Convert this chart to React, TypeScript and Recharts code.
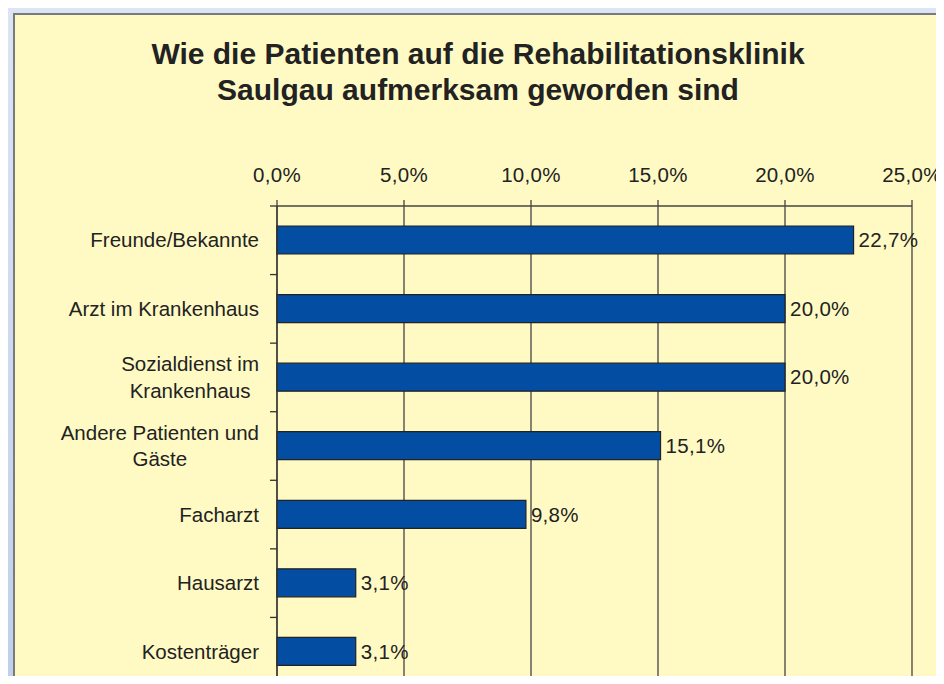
import React from 'react';
import { BarChart, Bar, XAxis, YAxis, CartesianGrid, LabelList } from 'recharts';

const categories = [
  'Freunde/Bekannte',
  'Arzt im Krankenhaus',
  'Sozialdienst im\nKrankenhaus',
  'Andere Patienten und\nGäste',
  'Facharzt',
  'Hausarzt',
  'Kostenträger',
];
const shares = [22.7, 20.0, 20.0, 15.1, 9.8, 3.1, 3.1];
const xTicks = [0, 5, 10, 15, 20, 25];

const data = categories.map((name, i) => ({ name, value: shares[i] }));

const FONT = "Arial, 'Liberation Sans', sans-serif";
const CHART_W = 931;
const CHART_H = 671;
const MARGIN = { top: 153, right: 32, bottom: -2, left: 4 };
const XAXIS_H = 40;
const Y_W = 260;
const PLOT_H = CHART_H - MARGIN.top - MARGIN.bottom - XAXIS_H;
const BAND = PLOT_H / categories.length;
const CAT_FS = 20.5;

const pct = (v: number) => v.toFixed(1).replace('.', ',') + '%';

let ctx: CanvasRenderingContext2D | null = null;
const measure = (s: string) => {
  if (!ctx) ctx = document.createElement('canvas').getContext('2d');
  if (!ctx) return s.length * 10;
  ctx.font = `${CAT_FS}px ${FONT}`;
  return ctx.measureText(s).width;
};

const CatTick = (props: any) => {
  const { x, y, payload, index } = props;
  const lines = String(payload.value).split('\n');
  const last = index === categories.length - 1;
  const right = x - 18;
  let labels;
  if (lines.length === 1) {
    labels = (
      <text x={right} y={y} dy={7} textAnchor="end" fontSize={CAT_FS} fill="#222" fontFamily={FONT}>
        {lines[0]}
      </text>
    );
  } else {
    const w = Math.max(...lines.map(measure));
    const cx = right - w / 2;
    labels = (
      <text x={cx} y={y} textAnchor="middle" fontSize={CAT_FS} fill="#222" fontFamily={FONT}>
        {lines.map((l, i) => (
          <tspan key={i} x={cx} dy={i === 0 ? 7 - 13.3 * (lines.length - 1) : 26.6}>
            {l}
          </tspan>
        ))}
      </text>
    );
  }
  return (
    <g>
      <line x1={x - 7} x2={x} y1={y - BAND / 2} y2={y - BAND / 2} stroke="#333" strokeWidth={1.3} />
      {last && <line x1={x - 7} x2={x} y1={y + BAND / 2} y2={y + BAND / 2} stroke="#333" strokeWidth={1.3} />}
      {labels}
    </g>
  );
};

export default function App() {
  return (
    <div
      style={{
        margin: -8,
        width: 944,
        height: 684,
        position: 'relative',
        overflow: 'hidden',
        background: 'linear-gradient(#dde4f5, #bfcfec)',
      }}
    >
      <div
        style={{
          position: 'absolute',
          left: 13,
          top: 13,
          width: 931,
          height: 671,
          background: '#fffac4',
          borderLeft: '2px solid #7a7a7a',
          borderTop: '2px solid #7a7a7a',
          boxSizing: 'border-box',
        }}
      >
        <div
          style={{
            position: 'absolute',
            left: 0,
            top: 21,
            width: 926,
            textAlign: 'center',
            fontFamily: FONT,
            fontWeight: 'bold',
            fontSize: 30,
            lineHeight: '36px',
            color: '#222',
          }}
        >
          Wie die Patienten auf die Rehabilitationsklinik
          <br />
          Saulgau aufmerksam geworden sind
        </div>
        <div style={{ position: 'absolute', left: -2, top: -2 }}>
          <BarChart
            width={CHART_W}
            height={CHART_H}
            data={data}
            layout="vertical"
            margin={MARGIN}
            barCategoryGap={0}
          >
            <CartesianGrid horizontal={false} stroke="#444" strokeWidth={1.3} />
            <XAxis
              type="number"
              orientation="top"
              domain={[0, 25]}
              ticks={xTicks}
              height={XAXIS_H}
              tickFormatter={pct}
              tick={{ fontSize: 20.5, fill: '#222', fontFamily: FONT, letterSpacing: 0.3 }}
              axisLine={{ stroke: '#444', strokeWidth: 1.3 }}
              tickLine={{ stroke: '#444', strokeWidth: 1.3 }}
              tickSize={6}
              tickMargin={18}
            />
            <YAxis
              type="category"
              dataKey="name"
              width={Y_W}
              interval={0}
              tickLine={false}
              tickSize={0}
              tickMargin={0}
              axisLine={{ stroke: '#333', strokeWidth: 1.3 }}
              tick={<CatTick />}
            />
            <Bar dataKey="value" fill="#034ea2" stroke="#222" strokeWidth={1.2} barSize={28} isAnimationActive={false}>
              <LabelList
                dataKey="value"
                position="right"
                offset={5}
                formatter={(v: any) => pct(Number(v))}
                style={{ fontSize: 20.5, fill: '#222', fontFamily: FONT, letterSpacing: 0.3 }}
              />
            </Bar>
          </BarChart>
        </div>
      </div>
    </div>
  );
}
